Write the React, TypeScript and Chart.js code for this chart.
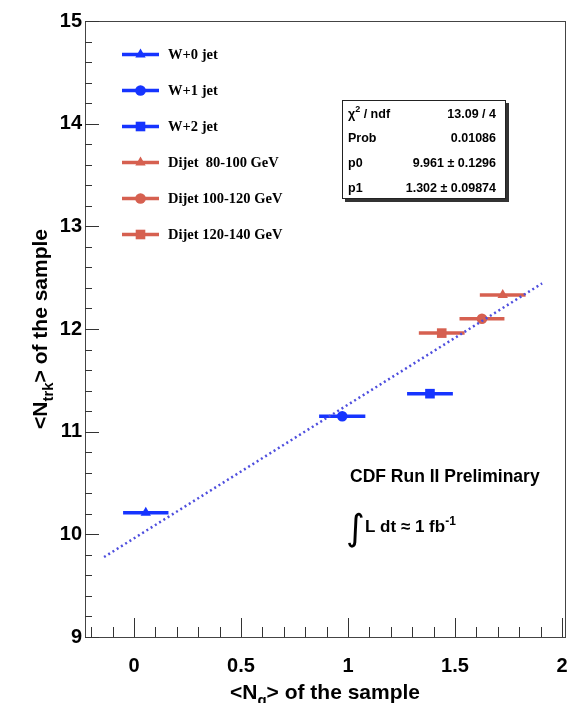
import React, { useEffect, useRef } from 'react';
import { Chart, registerables } from 'chart.js';

Chart.register(...registerables);

// W + jets samples
const wLabels = ['W+0 jet', 'W+1 jet', 'W+2 jet'];
const wNg = [0.055, 0.973, 1.383];
const wNgErr = [0.106, 0.108, 0.107];
const wNtrk = [10.21, 11.15, 11.37];

// Dijet samples
const dijetLabels = ['Dijet  80-100 GeV', 'Dijet 100-120 GeV', 'Dijet 120-140 GeV'];
const dijetNg = [1.723, 1.626, 1.438];
const dijetNgErr = [0.107, 0.105, 0.107];
const dijetNtrk = [12.33, 12.1, 11.96];

const markerStyles = ['triangle', 'circle', 'rect'];

// Linear fit  <Ntrk> = p0 + p1 * <Ng>
const fitP0 = 9.961;
const fitP1 = 1.302;
const fitXFrom = -0.14;
const fitXTo = 1.907;

const statsRows = [
  ['χ2 / ndf', '13.09 / 4'],
  ['Prob', '0.01086'],
  ['p0', '9.961 ± 0.1296'],
  ['p1', '1.302 ± 0.09874'],
];

// Axes
const xMin = -0.229;
const xMax = 2.014;
const yMin = 9;
const yMax = 15;
const xTickValues = [0, 0.5, 1, 1.5, 2];
const yTickValues = [9, 10, 11, 12, 13, 14, 15];
const xMinorStep = 0.1;
const yMinorStep = 0.2;

const BLUE = 'rgb(22,52,255)';
const RED = 'rgb(214,96,80)';
const FIT = 'rgb(78,78,222)';
const SANS = '"Liberation Sans", Arial, sans-serif';
const SERIF = '"Liberation Serif", "Times New Roman", serif';

type Part = { t: string; sub?: boolean; sup?: boolean };

function drawParts(ctx: CanvasRenderingContext2D, parts: Part[], x: number, y: number, size: number, align: 'left' | 'center' | 'right') {
  const fontFor = (p: Part) => `bold ${p.sub || p.sup ? Math.round(size * 0.7) : size}px ${SANS}`;
  let total = 0;
  for (const p of parts) {
    ctx.font = fontFor(p);
    total += ctx.measureText(p.t).width;
  }
  let cx = align === 'left' ? x : align === 'center' ? x - total / 2 : x - total;
  ctx.textAlign = 'left';
  ctx.textBaseline = 'alphabetic';
  for (const p of parts) {
    ctx.font = fontFor(p);
    const dy = p.sub ? size * 0.3 : p.sup ? -size * 0.42 : 0;
    ctx.fillText(p.t, cx, y + dy);
    cx += ctx.measureText(p.t).width;
  }
}

function drawMarker(ctx: CanvasRenderingContext2D, style: string, x: number, y: number) {
  ctx.beginPath();
  if (style === 'triangle') {
    const r = 6;
    ctx.moveTo(x, y - r);
    ctx.lineTo(x + r * 0.866, y + r * 0.5);
    ctx.lineTo(x - r * 0.866, y + r * 0.5);
    ctx.closePath();
  } else if (style === 'circle') {
    ctx.arc(x, y, 5.3, 0, Math.PI * 2);
  } else {
    ctx.rect(x - 4.8, y - 4.8, 9.6, 9.6);
  }
  ctx.fill();
}

const errorBarPlugin = {
  id: 'xErrorBars',
  beforeDatasetsDraw(chart: any) {
    const { ctx, scales } = chart;
    const xs = scales.x;
    const ys = scales.y;
    ctx.save();
    chart.data.datasets.forEach((ds: any) => {
      if (!ds.xErr) return;
      ds.data.forEach((pt: any, i: number) => {
        const e = ds.xErr[i];
        const py = ys.getPixelForValue(pt.y);
        ctx.strokeStyle = ds.backgroundColor;
        ctx.lineWidth = 3.5;
        ctx.lineCap = 'butt';
        ctx.beginPath();
        ctx.moveTo(xs.getPixelForValue(pt.x - e), py);
        ctx.lineTo(xs.getPixelForValue(pt.x + e), py);
        ctx.stroke();
      });
    });
    ctx.restore();
  },
};

const decorPlugin = {
  id: 'rootDecor',
  afterDraw(chart: any) {
    const { ctx, chartArea: a, scales } = chart;
    const xs = scales.x;
    const ys = scales.y;
    ctx.save();

    // frame
    ctx.strokeStyle = '#444';
    ctx.lineWidth = 1;
    ctx.strokeRect(Math.round(a.left) + 0.5, Math.round(a.top) + 0.5, Math.round(a.right - a.left), Math.round(a.bottom - a.top));

    // tick marks drawn inside the frame
    ctx.strokeStyle = '#333';
    ctx.beginPath();
    for (let v = Math.ceil(xMin / xMinorStep) * xMinorStep; v <= xMax + 1e-9; v += xMinorStep) {
      const major = Math.abs(v / 0.5 - Math.round(v / 0.5)) < 1e-6;
      const px = Math.round(xs.getPixelForValue(v)) + 0.5;
      ctx.moveTo(px, a.bottom);
      ctx.lineTo(px, a.bottom - (major ? 19 : 10));
    }
    for (let v = yMin; v <= yMax + 1e-9; v += yMinorStep) {
      const major = Math.abs(v - Math.round(v)) < 1e-6;
      const py = Math.round(ys.getPixelForValue(v)) + 0.5;
      ctx.moveTo(a.left, py);
      ctx.lineTo(a.left + (major ? 14 : 7), py);
    }
    ctx.stroke();

    // x tick labels (may run up to the page edge, as in ROOT)
    ctx.fillStyle = '#000';
    ctx.font = `bold 20px ${SANS}`;
    ctx.textAlign = 'center';
    ctx.textBaseline = 'middle';
    xTickValues.forEach((v) => {
      ctx.fillText(String(v), xs.getPixelForValue(v), a.bottom + 29);
    });

    // axis titles
    drawParts(ctx, [{ t: '<N' }, { t: 'g', sub: true }, { t: '> of the sample' }], (a.left + a.right) / 2, 699, 21, 'center');
    ctx.save();
    ctx.translate(47, (a.top + a.bottom) / 2);
    ctx.rotate(-Math.PI / 2);
    drawParts(ctx, [{ t: '<N' }, { t: 'trk', sub: true }, { t: '> of the sample' }], 0, 0, 21, 'center');
    ctx.restore();

    // legend
    const entries = [
      ...wLabels.map((l, i) => ({ label: l, color: BLUE, style: markerStyles[i] })),
      ...dijetLabels.map((l, i) => ({ label: l, color: RED, style: markerStyles[i] })),
    ];
    entries.forEach((e, i) => {
      const ly = 54.5 + i * 36;
      ctx.strokeStyle = e.color;
      ctx.fillStyle = e.color;
      ctx.lineWidth = 3.5;
      ctx.beginPath();
      ctx.moveTo(122, ly);
      ctx.lineTo(159, ly);
      ctx.stroke();
      drawMarker(ctx, e.style, 140.5, ly);
      ctx.fillStyle = '#000';
      ctx.font = `bold 14.5px ${SERIF}`;
      ctx.textAlign = 'left';
      ctx.textBaseline = 'middle';
      ctx.fillText(e.label, 168, ly + 1);
    });

    // fit statistics box
    const bx = 342, by = 100, bw = 164, bh = 99;
    ctx.fillStyle = '#333';
    ctx.fillRect(bx + 3, by + 3, bw, bh);
    ctx.fillStyle = '#fff';
    ctx.fillRect(bx, by, bw, bh);
    ctx.strokeStyle = '#222';
    ctx.lineWidth = 1;
    ctx.strokeRect(bx + 0.5, by + 0.5, bw - 1, bh - 1);
    ctx.fillStyle = '#000';
    statsRows.forEach((row, i) => {
      const ry = 117.5 + i * 24.8;
      if (i === 0) {
        drawParts(ctx, [{ t: 'χ' }, { t: '2', sup: true }, { t: ' / ndf' }], 348, ry, 12.5, 'left');
      } else {
        drawParts(ctx, [{ t: row[0] }], 348, ry, 12.5, 'left');
      }
      drawParts(ctx, [{ t: row[1] }], 496, ry, 12.5, 'right');
    });

    // experiment label
    drawParts(ctx, [{ t: 'CDF Run II Preliminary' }], 350, 482, 17.5, 'left');
    ctx.font = `36px "DejaVu Sans", sans-serif`;
    ctx.textAlign = 'left';
    ctx.textBaseline = 'alphabetic';
    ctx.fillText('∫', 346, 540);
    drawParts(ctx, [{ t: 'L dt ≈ 1 fb' }, { t: '-1', sup: true }], 365, 532, 17, 'left');

    ctx.restore();
  },
};

export default function App() {
  const canvasRef = useRef<HTMLCanvasElement | null>(null);

  useEffect(() => {
    const canvas = canvasRef.current;
    if (!canvas) return;

    const radiusFor = (s: string) => (s === 'rect' ? 6.8 : s === 'triangle' ? 6 : 5.3);

    const pointSets = [
      ...wLabels.map((label, i) => ({
        label,
        data: [{ x: wNg[i], y: wNtrk[i] }],
        xErr: [wNgErr[i]],
        backgroundColor: BLUE,
        borderColor: BLUE,
        pointStyle: markerStyles[i],
        pointRadius: radiusFor(markerStyles[i]),
        borderWidth: 0,
        showLine: false,
      })),
      ...dijetLabels.map((label, i) => ({
        label,
        data: [{ x: dijetNg[i], y: dijetNtrk[i] }],
        xErr: [dijetNgErr[i]],
        backgroundColor: RED,
        borderColor: RED,
        pointStyle: markerStyles[i],
        pointRadius: radiusFor(markerStyles[i]),
        borderWidth: 0,
        showLine: false,
      })),
    ];

    const fitSet = {
      type: 'line',
      label: 'fit',
      data: [fitXFrom, fitXTo].map((x) => ({ x, y: fitP0 + fitP1 * x })),
      borderColor: FIT,
      borderWidth: 2.5,
      borderDash: [2, 3],
      pointRadius: 0,
      showLine: true,
      fill: false,
    };

    const chart = new Chart(canvas, {
      type: 'scatter',
      data: { datasets: [fitSet as any, ...pointSets] },
      options: {
        responsive: false,
        animation: false,
        layout: { autoPadding: false, padding: { top: 21, right: 3, left: 0, bottom: 0 } },
        plugins: { legend: { display: false }, tooltip: { enabled: false } },
        scales: {
          x: {
            type: 'linear',
            min: xMin,
            max: xMax,
            grid: { display: false, drawTicks: false },
            border: { display: false },
            afterBuildTicks: (s: any) => {
              s.ticks = xTickValues.map((v) => ({ value: v }));
            },
            afterFit: (s: any) => {
              s.height = 66;
            },
            ticks: { display: false },
          },
          y: {
            type: 'linear',
            min: yMin,
            max: yMax,
            grid: { display: false, drawTicks: false },
            border: { display: false },
            afterBuildTicks: (s: any) => {
              s.ticks = yTickValues.map((v) => ({ value: v }));
            },
            afterFit: (s: any) => {
              s.width = 85;
              s.paddingTop = 0;
              s.paddingBottom = 0;
            },
            ticks: {
              padding: 3,
              color: '#000',
              font: { family: SANS, size: 20, weight: 'bold' },
              callback: (v: any) => String(v),
            },
          },
        },
      } as any,
      plugins: [errorBarPlugin, decorPlugin],
    });

    return () => chart.destroy();
  }, []);

  return (
    <div style={{ position: 'absolute', left: 0, top: 0, width: 568, height: 703, background: '#fff' }}>
      <canvas ref={canvasRef} width={568} height={703} style={{ display: 'block', width: 568, height: 703 }} />
    </div>
  );
}
